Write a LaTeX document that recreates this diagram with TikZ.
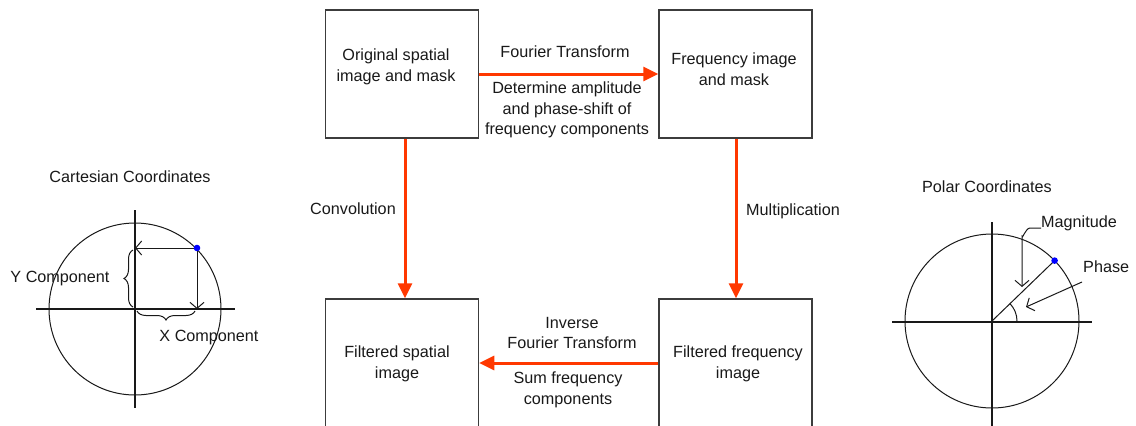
\documentclass[tikz,border=0pt]{standalone}
\usepackage{fontspec}
\setmainfont{Liberation Sans}
\usetikzlibrary{arrows.meta,decorations.pathreplacing}
\definecolor{flow}{RGB}{255,56,0}
\definecolor{frame}{RGB}{60,60,60}
\definecolor{ink}{RGB}{25,25,25}
\definecolor{pointblue}{RGB}{0,0,255}
\tikzset{
  stagebox/.style={draw=frame, line width=1.5pt, minimum width=153pt, minimum height=128pt, inner sep=0pt},
  txt/.style={text=ink, font=\fontsize{16.2}{20.5}\selectfont, align=center, inner sep=0pt},
  flowarrow/.style={draw=flow, line width=3pt, -{Triangle[length=15pt,width=14pt]}},
  axis/.style={draw=ink, line width=1.2pt},
  thin/.style={draw=ink, line width=1pt},
  openarrow/.style={thin, -{Straight Barb[length=6pt,width=14pt,line width=1pt]}},
}
\begin{document}
\begin{tikzpicture}[x=1pt,y=-1pt]
\useasboundingbox (0,0) rectangle (1136,426);
\clip (0,0) rectangle (1136,426);
\fill[white] (0,0) rectangle (1136,426);

% --- processing stages ---
\node[stagebox] (orig) at (402,74) {};
\node[stagebox] (freq) at (735.5,74) {};
\node[stagebox] (fspat) at (402,363) {};
\node[stagebox] (ffreq) at (735.5,363) {};

\node[txt] (origtxt) at (396,67) {Original spatial\\image and mask};
\node[txt] (freqtxt) at (734,69) {Frequency image\\and mask};
\node[txt] (fspattxt) at (397,364) {Filtered spatial\\image};
\node[txt] (ffreqtxt) at (738,364) {Filtered frequency\\image};

% --- transitions ---
\draw[flowarrow] (orig.east) -- (freq.west);
\draw[flowarrow] ([xshift=3pt]orig.south) -- ([xshift=3pt]fspat.north);
\draw[flowarrow] ([xshift=0.5pt]freq.south) -- ([xshift=0.5pt]ffreq.north);
\draw[flowarrow] (ffreq.west) -- (fspat.east);

\node[txt] (ftlabel) at (565,52) {Fourier Transform};
\node[txt] (detlabel) at (567,110) {Determine amplitude\\and phase-shift of\\frequency components};
\node[txt] (convlabel) at (353,209) {Convolution};
\node[txt] (multlabel) at (793,211) {Multiplication};
\node[txt] (iftlabel) at (572,333) {Inverse\\Fourier Transform};
\node[txt] (sumlabel) at (568,390) {Sum frequency\\components};

% --- Cartesian coordinates ---
\node[txt] (carttitle) at (130,177) {Cartesian Coordinates};
\coordinate (co) at (135,309);
\draw[thin] (co) circle (86);
\draw[axis] (135,210) -- (135,408);
\draw[axis] (36,309) -- (235,309);
\coordinate (cp) at (197,248);
\coordinate (cpy) at (135,248);
\coordinate (cpx) at (197,309);
\draw[openarrow] (cp) -- (cpy);
\draw[openarrow] (cp) -- (cpx);
\fill[pointblue] (cp) circle (3.3);
\draw[thin, decorate, decoration={brace, amplitude=9pt}] (133,307) -- (133,250);
\draw[thin, decorate, decoration={brace, amplitude=9pt}] (195,311) -- (137,311);
\node[txt] (ycomp) at (60,279) {Y Component};
\node[txt] (xcomp) at (209,338) {X Component};

% --- polar coordinates ---
\node[txt] (poltitle) at (987,187) {Polar Coordinates};
\coordinate (po) at (992,321);
\draw[thin] (po) circle (87);
\draw[axis] (992,222) -- (992,430);
\draw[axis] (892,322) -- (1092,322);
\coordinate (pp) at (1054.6,260.6);
\draw[thin] (po) -- (pp);
\draw[thin] ([xshift=25pt]po) arc[start angle=0, end angle=-44, radius=25];
\fill[pointblue] (pp) circle (3.3);
\node[txt, anchor=west] (maglabel) at (1041,223) {Magnitude};
\node[txt, anchor=west] (phaselabel) at (1083,267) {Phase};
\draw[openarrow] (maglabel.west |- 0,228) -- (1030,228) to[out=180,in=-90] (1022,236) -- (1022,287);
\draw[openarrow] (1082,282) -- (1026,307);
\end{tikzpicture}
\end{document}
